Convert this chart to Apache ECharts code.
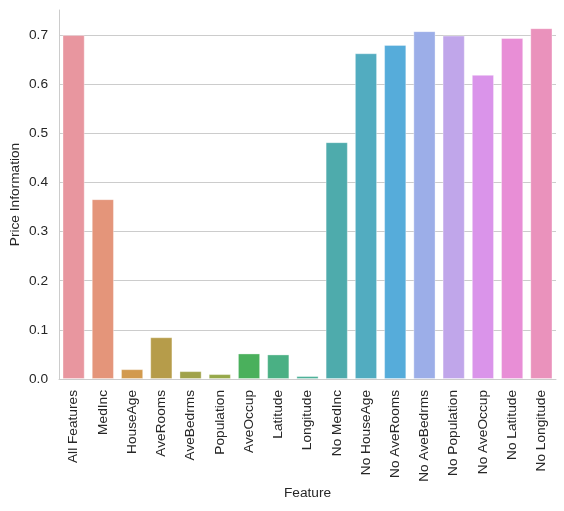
<!DOCTYPE html>
<html>
<head>
<meta charset="utf-8">
<script src="https://cdn.jsdelivr.net/npm/echarts@6/dist/echarts.min.js"></script>
<style>
  html, body { margin: 0; padding: 0; background: #fff; }
  #chart { width: 564px; height: 511px; }
</style>
</head>
<body>
<div id="chart"></div>
<script>
// feature sets on the x axis
const features = [
  "All Features", "MedInc", "HouseAge", "AveRooms", "AveBedrms", "Population",
  "AveOccup", "Latitude", "Longitude", "No MedInc", "No HouseAge", "No AveRooms",
  "No AveBedrms", "No Population", "No AveOccup", "No Latitude", "No Longitude"
];
// price information per feature set
const priceInfo = [
  0.700, 0.366, 0.020, 0.085, 0.016, 0.010, 0.052, 0.050, 0.006,
  0.482, 0.663, 0.680, 0.708, 0.699, 0.619, 0.694, 0.714
];
// husl-like palette, desaturated like seaborn
const barColors = [
  "#e8969f", "#e4957a", "#d29a4e", "#b69c4a", "#a0a24a", "#96a84a",
  "#4ab05c", "#4ab084", "#4cb098", "#4eabac", "#52acc0", "#56acda",
  "#9caee8", "#c0a6ea", "#da94ea", "#e88ed6", "#ea92bc"
];
const yTicks = [0, 0.1, 0.2, 0.3, 0.4, 0.5, 0.6, 0.7];

const chart = echarts.init(document.getElementById("chart"));
const font = "Liberation Sans, Arial, sans-serif";
const fs = 13.7;

chart.setOption({
  animation: false,
  grid: { left: 59, right: 8, top: 10, bottom: 132, containLabel: false, outerBoundsMode: "none" },
  xAxis: {
    type: "category",
    data: features,
    name: "Feature",
    nameLocation: "middle",
    nameGap: 107,
    nameMoveOverlap: false,
    nameTextStyle: { color: "#262626", fontFamily: font, fontSize: fs },
    axisLine: { lineStyle: { color: "#cccccc", width: 1 } },
    axisTick: { show: false },
    axisLabel: {
      rotate: 90, interval: 0, margin: 11,
      color: "#262626", fontFamily: font, fontSize: fs
    }
  },
  yAxis: {
    type: "value",
    min: 0,
    max: 0.751,
    interval: 0.1,
    name: "Price Information",
    nameLocation: "middle",
    nameGap: 37,
    nameMoveOverlap: false,
    nameTextStyle: { color: "#262626", fontFamily: font, fontSize: fs },
    axisLine: { show: true, lineStyle: { color: "#cccccc", width: 1 } },
    axisTick: { show: false },
    splitLine: { show: true, showMaxLine: false, lineStyle: { color: "#cccccc", width: 1 } },
    axisLabel: {
      margin: 11, showMaxLabel: false,
      color: "#262626", fontFamily: font, fontSize: fs,
      formatter: v => yTicks.some(t => Math.abs(t - v) < 1e-6) ? v.toFixed(1) : ""
    }
  },
  series: [{
    type: "bar",
    barWidth: "76%",
    data: priceInfo.map((v, i) => ({
      value: v,
      itemStyle: { color: barColors[i], borderColor: "rgba(255,255,255,0.35)", borderWidth: 1 }
    }))
  }]
});
</script>
</body>
</html>
